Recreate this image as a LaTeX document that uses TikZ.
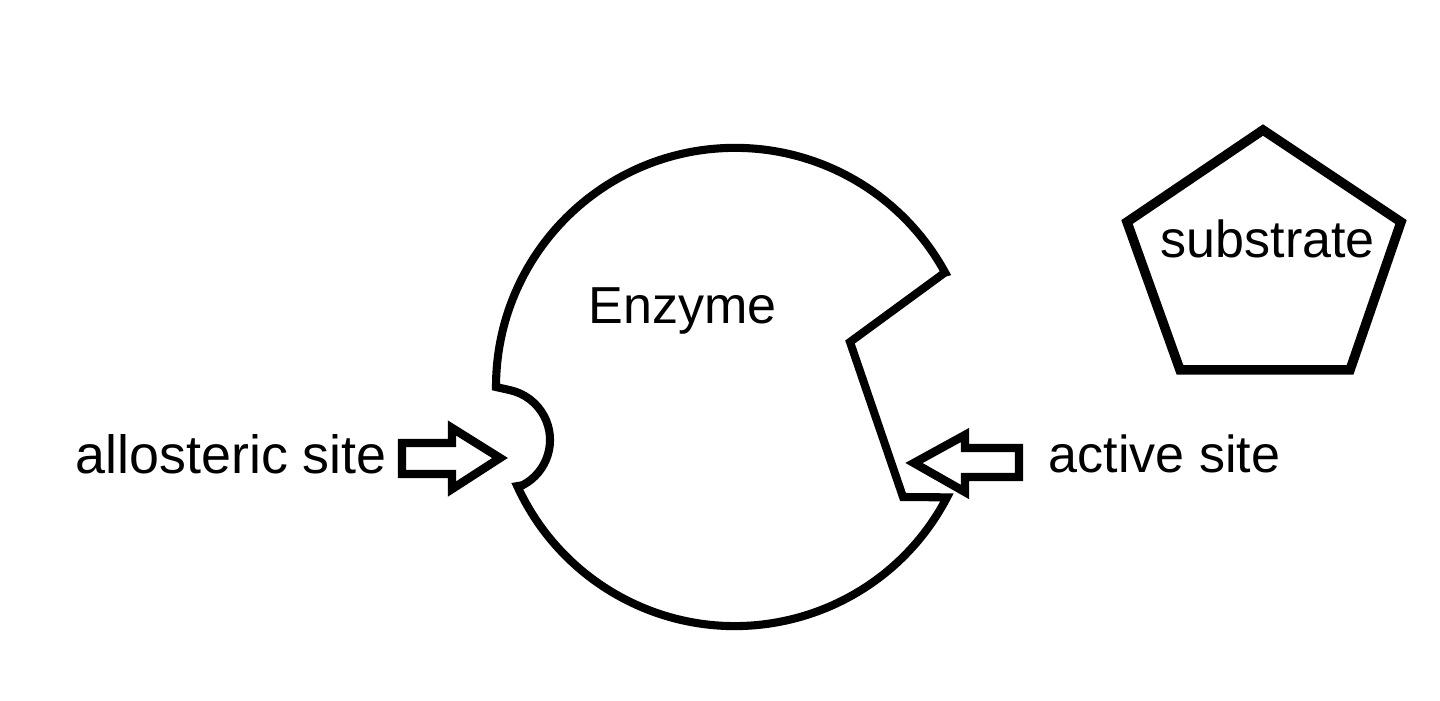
\documentclass[tikz,border=0pt]{standalone}
\usepackage{fontspec}
\setmainfont{Liberation Sans}
\usetikzlibrary{calc}

\tikzset{
  outline/.style={draw=black, line width=2.3pt},
  sitearrow/.style={draw=black, line width=2.4pt},
  lbl/.style={inner sep=0pt, anchor=base west, font=\fontsize{14.8}{17}\selectfont}
}

\begin{document}
\begin{tikzpicture}[x=0.01cm,y=0.01cm]
\useasboundingbox (0,0) rectangle (1440,700);
\coordinate (enz) at (735,313);
\coordinate (pocket) at (499,260);
\coordinate (slotTop) at (850,358);
\coordinate (slotLow) at (903,203);
\draw[outline] ($(enz)+(28.6:239)$) -- (slotTop) -- (slotLow) -- ($(enz)+(-27.5:239)$)
  arc[start angle=-27.5, end angle=-155.5, radius=2.39cm]
  -- ($(pocket)+(-62.4:51)$) arc[start angle=-62.4, end angle=77.6, radius=0.51cm]
  -- ($(enz)+(180:239)$) arc[start angle=180, end angle=28.6, radius=2.39cm] -- cycle;
\node[lbl] (enzyme) at (588,376) {Enzyme};

\coordinate (alloTip) at (500,242);
\draw[sitearrow] (alloTip) -- (452,272) -- (452,257) -- (402,257) -- (402,226)
  -- (452,226) -- (452,211) -- cycle;
\node[lbl, font=\fontsize{15.3}{17}\selectfont] (allo) at (75,226) {allosteric site};

\coordinate (actTip) at (914,237);
\draw[sitearrow] (actTip) -- (965,265) -- (965,252) -- (1019,252) -- (1019,223)
  -- (965,223) -- (965,208) -- cycle;
\node[lbl] (act) at (1048,227) {active site};

\draw[outline, line width=2.7pt] (1263,570) -- (1401,478) -- (1350,330) -- (1180,330)
  -- (1127,478) -- cycle;
\node[lbl] (sub) at (1160,442) {substrate};
\end{tikzpicture}
\end{document}
